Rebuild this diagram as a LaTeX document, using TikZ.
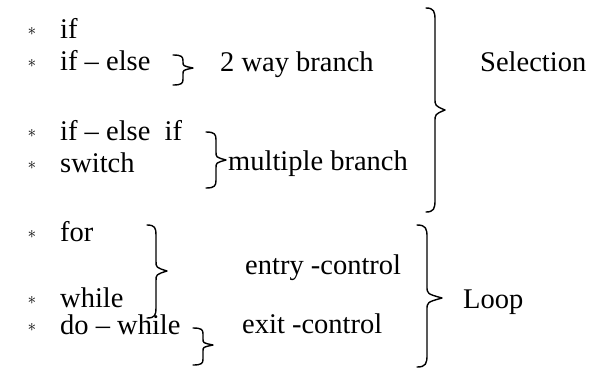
\documentclass[tikz,border=0pt]{standalone}
\usepackage{fontspec}
\setmainfont{Liberation Serif}
\newcommand\mybrace[7]{%
  \draw[brc] (#1,#4) .. controls ({#2-1},#4) and (#2,{#4+0.3*#7}) .. (#2,{#4+#7})
    -- (#2,{#5-#7}) .. controls (#2,{#5-0.35*#7}) .. (#3,#5)
    .. controls (#2,{#5+0.35*#7}) .. (#2,{#5+#7})
    -- (#2,{#6-#7}) .. controls (#2,{#6-0.3*#7}) and ({#2-1},#6) .. (#1,#6);}
\begin{document}
\begin{tikzpicture}[x=1pt,y=-1pt,
  txt/.style={anchor=base west, inner sep=0pt, font=\fontsize{28.5}{32}\selectfont},
  star/.style={anchor=center, inner sep=0pt, font=\fontsize{16}{16}\selectfont},
  brc/.style={line width=1.4pt, line cap=round, line join=round}]
\useasboundingbox (0,0) rectangle (592,368);
% asterisks
\node[star] (s1) at (32,31) {$\ast$};
\node[star] (s2) at (32,63) {$\ast$};
\node[star] (s3) at (32,133) {$\ast$};
\node[star] (s4) at (32,165) {$\ast$};
\node[star] (s5) at (32,234) {$\ast$};
\node[star] (s6) at (32,300) {$\ast$};
\node[star] (s7) at (32,327) {$\ast$};
% items
\node[txt] (t1) at (60,38) {if};
\node[txt] (t2) at (60,70) {if – else};
\node[txt] (t3) at (60,140) {if – else~~if};
\node[txt] (t4) at (60,172) {switch};
\node[txt] (t5) at (60,241) {for};
\node[txt] (t6) at (60,307) {while};
\node[txt] (t7) at (60,334) {do – while};
% labels
\node[txt] (l1) at (220,71) {2 way branch};
\node[txt] (l2) at (228,170) {multiple branch};
\node[txt] (l3) at (480,71) {Selection};
\node[txt] (l4) at (245,274) {entry -control};
\node[txt] (l5) at (242,333) {exit -control};
\node[txt] (l6) at (463,308) {Loop};
% braces
\mybrace{173}{183}{193}{55}{68}{85}{6}
\mybrace{206}{216}{226}{132}{160}{188}{8}
\mybrace{426}{435}{445}{8}{110}{212}{12}
\mybrace{147}{156}{167}{225}{271}{318}{10}
\mybrace{193}{203}{213}{328}{345}{365}{6}
\mybrace{417}{427}{442}{225}{298}{367}{12}
\end{tikzpicture}
\end{document}
